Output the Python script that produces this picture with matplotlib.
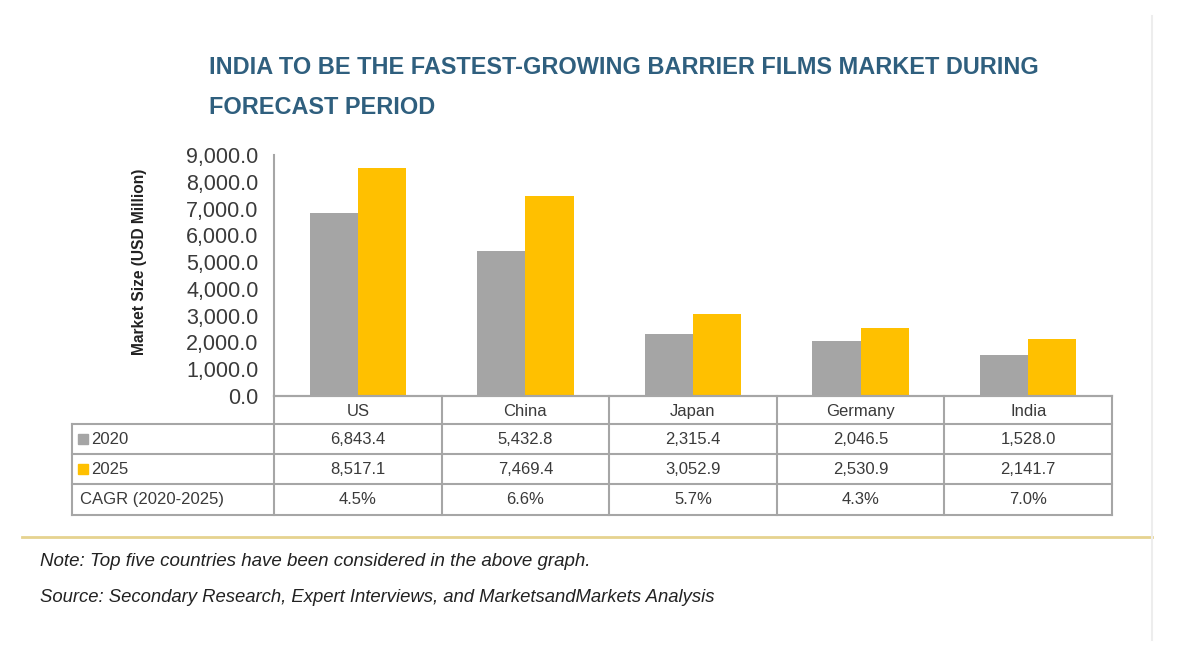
import numpy as np
import matplotlib
matplotlib.use('Agg')
import matplotlib.pyplot as plt
from matplotlib.lines import Line2D
from matplotlib.patches import Rectangle

# Data
countries = ['US', 'China', 'Japan', 'Germany', 'India']
v2020 = [6843.4, 5432.8, 2315.4, 2046.5, 1528.0]
v2025 = [8517.1, 7469.4, 3052.9, 2530.9, 2141.7]
cagr = ['4.5%', '6.6%', '5.7%', '4.3%', '7.0%']
series = ['2020', '2025']
yticks = np.arange(0, 9001, 1000)

note = 'Note: Top five countries have been considered in the above graph.'
source = 'Source: Secondary Research, Expert Interviews, and MarketsandMarkets Analysis'

c_gray = '#A5A5A5'
c_gold = '#FFC000'
c_line = '#A6A6A6'
c_text = '#3A3A3A'

W, H = 1200, 650
fig = plt.figure(figsize=(12, 6.5), dpi=100)
plt.rcParams['font.family'] = ['Liberation Sans', 'DejaVu Sans']

def fx(px):
    return px / W

def fy(py):
    return 1 - py / H

narrow = ['Liberation Sans Narrow', 'Liberation Sans', 'DejaVu Sans']

# title
fig.text(fx(209), fy(67), 'INDIA TO BE THE FASTEST-GROWING BARRIER FILMS MARKET DURING',
         fontsize=16.9, fontweight='bold', color='#2F5F7E', family=narrow, va='center')
fig.text(fx(209), fy(108), 'FORECAST PERIOD',
         fontsize=16.9, fontweight='bold', color='#2F5F7E', family=narrow, va='center')

# bar chart
x0, x1, ytop, ybot = 274, 1112, 155, 396
ax = fig.add_axes([fx(x0), fy(ybot), fx(x1 - x0), (ybot - ytop) / H])
x = np.arange(len(countries))
bw = 0.287
ax.bar(x - bw / 2, v2020, bw, color=c_gray)
ax.bar(x + bw / 2, v2025, bw, color=c_gold)
ax.set_xlim(-0.5, len(countries) - 0.5)
ax.set_ylim(0, 9000)
ax.set_yticks(yticks)
ax.set_yticklabels([f'{v:,.1f}' for v in yticks], fontsize=15.5, color=c_text)
ax.tick_params(axis='y', length=0, pad=11)
ax.set_xticks([])
for s in ['top', 'right']:
    ax.spines[s].set_visible(False)
ax.spines['left'].set_color(c_line)
ax.spines['bottom'].set_color(c_line)
ax.spines['left'].set_linewidth(1.5)
ax.spines['bottom'].set_linewidth(1.5)
ax.set_ylabel('Market Size (USD Million)', fontsize=11.2, fontweight='bold',
              family=narrow, color='#222222', va='center')
ax.yaxis.set_label_coords(-0.16, 0.556)

# data table below the chart
tleft = 72
rows_y = [396, 424, 454, 484, 515]
colw = (x1 - x0) / len(countries)
lw = 1.5
for i, yy in enumerate(rows_y):
    xs = x0 if i == 0 else tleft
    fig.add_artist(Line2D([fx(xs), fx(x1)], [fy(yy), fy(yy)], color=c_line, lw=lw))
fig.add_artist(Line2D([fx(tleft), fx(tleft)], [fy(rows_y[1]), fy(rows_y[-1])], color=c_line, lw=lw))
for j in range(len(countries) + 1):
    xx = x0 + j * colw
    fig.add_artist(Line2D([fx(xx), fx(xx)], [fy(rows_y[0]), fy(rows_y[-1])], color=c_line, lw=lw))

def ymid(r):
    return fy((rows_y[r] + rows_y[r + 1]) / 2)

for j, name in enumerate(countries):
    cx = fx(x0 + (j + 0.5) * colw)
    fig.text(cx, ymid(0) - 1.5 / H, name, ha='center', va='center', fontsize=12, color=c_text)
    fig.text(cx, ymid(1), f'{v2020[j]:,.1f}', ha='center', va='center', fontsize=12, color=c_text)
    fig.text(cx, ymid(2), f'{v2025[j]:,.1f}', ha='center', va='center', fontsize=12, color=c_text)
    fig.text(cx, ymid(3), cagr[j], ha='center', va='center', fontsize=12, color=c_text)

for r, (lab, col) in enumerate(zip(series, [c_gray, c_gold]), start=1):
    yc = (rows_y[r] + rows_y[r + 1]) / 2
    fig.add_artist(Rectangle((fx(78), fy(yc + 5)), fx(10), 10 / H, color=col))
    fig.text(fx(91), ymid(r), lab, ha='left', va='center', fontsize=12, color=c_text)
fig.text(fx(80), ymid(3), 'CAGR (2020-2025)', ha='left', va='center', fontsize=12, color=c_text)

# separator line and notes
fig.add_artist(Line2D([fx(22), fx(1152)], [fy(537), fy(537)], color='#E6D38F', lw=2))
fig.add_artist(Line2D([fx(1152), fx(1152)], [fy(16), fy(640)], color='#EDEDED', lw=1.5))
fig.text(fx(40), fy(562), note, fontsize=13.5, style='italic', family=narrow,
         color='#222222', va='center')
fig.text(fx(40), fy(597), source, fontsize=13.3, style='italic', family=narrow,
         color='#222222', va='center')

fig.savefig('out.png', dpi=100, facecolor='white')
